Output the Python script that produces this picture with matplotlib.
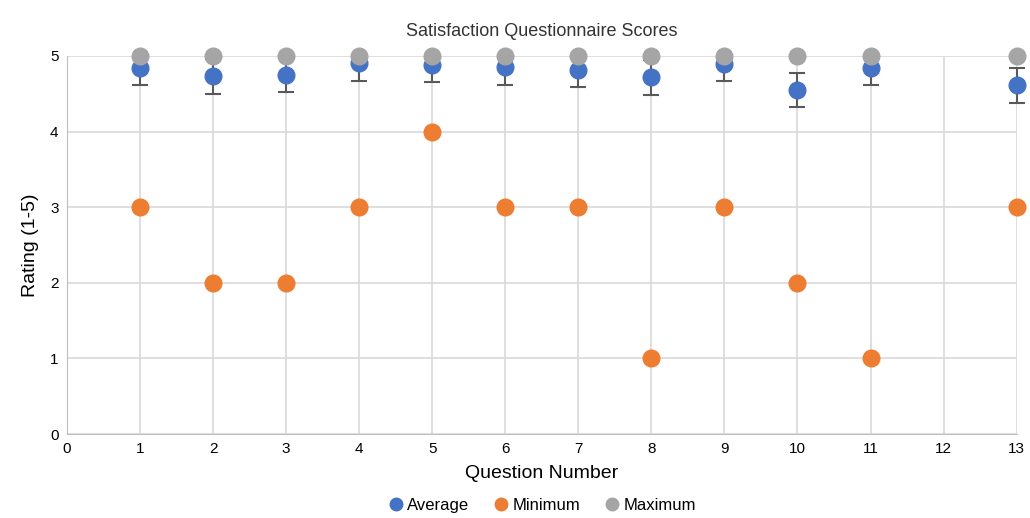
import matplotlib.pyplot as plt
from matplotlib.lines import Line2D
from matplotlib.patches import Rectangle

plt.rcParams['font.family'] = ['Liberation Sans', 'DejaVu Sans']

# question numbers and scores (Q12 has no data)
questions = [1, 2, 3, 4, 5, 6, 7, 8, 9, 10, 11, 13]
average = [4.84, 4.73, 4.75, 4.91, 4.88, 4.85, 4.82, 4.72, 4.90, 4.55, 4.84, 4.61]
avg_err = [0.23, 0.23, 0.23, 0.24, 0.23, 0.24, 0.23, 0.23, 0.23, 0.23, 0.23, 0.23]
minimum = [3, 2, 2, 3, 4, 3, 3, 1, 3, 2, 1, 3]
maximum = [5, 5, 5, 5, 5, 5, 5, 5, 5, 5, 5, 5]

colors = {'Average': '#4472C4', 'Minimum': '#ED7D31', 'Maximum': '#A5A5A5'}

fig = plt.figure(figsize=(10.3, 5.18), dpi=100)
ax = fig.add_axes([0.065, 0.162, 0.922, 0.730])

ms = 12
# error bars clipped at the top of the plot area (like Excel), markers are not
eb = ax.errorbar(questions, average, yerr=avg_err, fmt='none', ecolor='#595959',
                 elinewidth=1.5, capsize=6, capthick=1.5, zorder=2.5)
clip = Rectangle((-1, 0), 15, 5, transform=ax.transData, visible=False)
ax.add_patch(clip)
for artist in [*eb[1], *eb[2]]:
    artist.set_clip_path(clip)
ax.plot(questions, average, 'o', color=colors['Average'], markersize=ms, zorder=3, clip_on=False)
ax.plot(questions, minimum, 'o', color=colors['Minimum'], markersize=ms, zorder=4, clip_on=False)
ax.plot(questions, maximum, 'o', color=colors['Maximum'], markersize=ms, zorder=5, clip_on=False)

ax.set_xlim(0, 13)
ax.set_ylim(0, 5)
ax.set_xticks(range(0, 14))
ax.set_yticks(range(0, 6))
ax.grid(True, color='#D9D9D9', linewidth=1.2)
ax.set_axisbelow(True)
for s in ['top', 'right']:
    ax.spines[s].set_visible(False)
for s in ['left', 'bottom']:
    ax.spines[s].set_color('#BFBFBF')
ax.tick_params(length=0, labelsize=11, colors='#000000', pad=6)

ax.set_title('Satisfaction Questionnaire Scores', fontsize=13, color='#333333', pad=14)
ax.set_xlabel('Question Number', fontsize=14, labelpad=6)
ax.set_ylabel('Rating (1-5)', fontsize=14, labelpad=8)

handles = [Line2D([], [], marker='o', linestyle='none', color=c, markersize=9, label=n)
           for n, c in colors.items()]
ax.legend(handles=handles, loc='upper center', bbox_to_anchor=(0.5, -0.13), ncol=3,
          frameon=False, fontsize=12, handletextpad=0.2, columnspacing=1.4, handlelength=1.0)

fig.savefig('out.png', dpi=100)
